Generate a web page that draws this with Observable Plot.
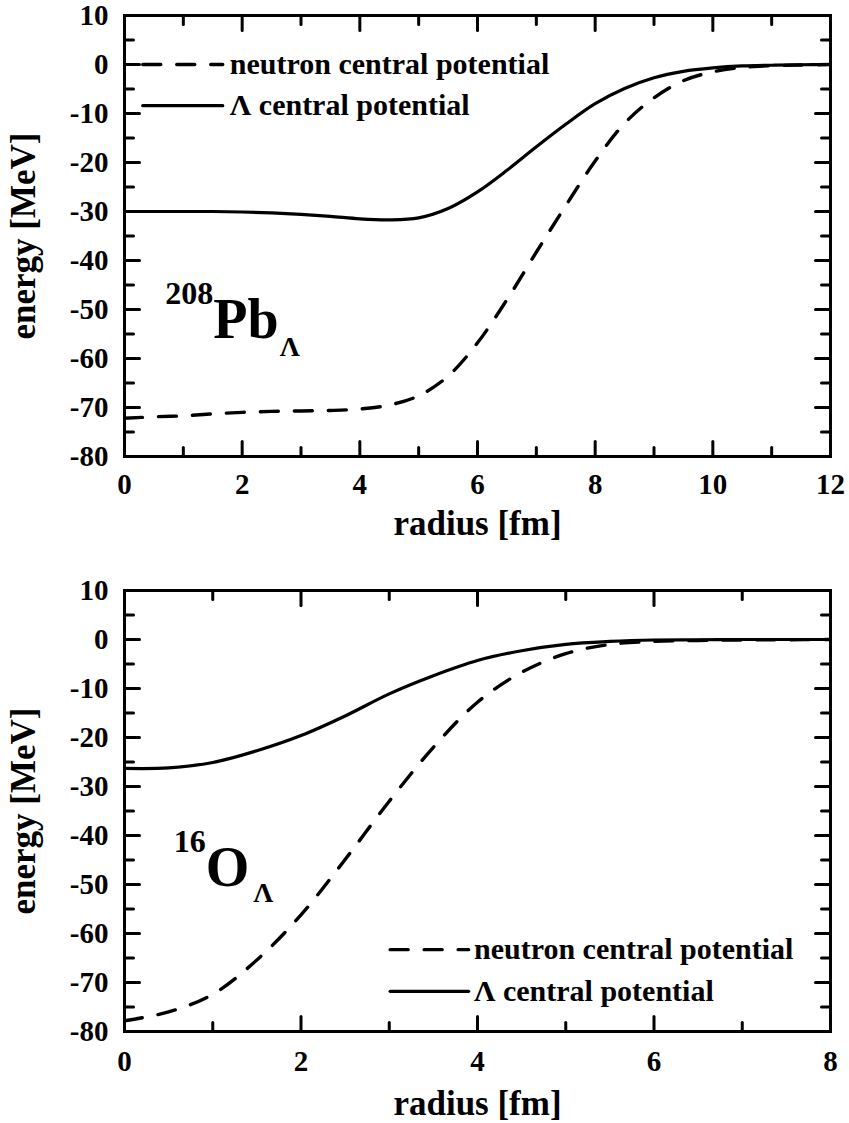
<!DOCTYPE html>
<html>
<head>
<meta charset="utf-8">
<script src="https://cdn.jsdelivr.net/npm/d3@7"></script>
<script src="https://cdn.jsdelivr.net/npm/@observablehq/plot@0.6"></script>
<style>
  html, body { margin: 0; padding: 0; background: #fff; }
  #chart svg { display: block; }
</style>
</head>
<body>
<div id="chart"></div>
<script>
// ---------- data ----------
const pbRadius  = [0, 0.5, 1, 1.5, 2, 2.5, 3, 3.5, 4, 4.5, 5, 5.5, 6, 6.5, 7, 7.5, 8, 8.5, 9, 9.5, 10, 10.5, 11, 11.5, 12];
const pbNeutron = [-72.2, -71.9, -71.7, -71.3, -71.0, -70.8, -70.7, -70.6, -70.3, -69.5, -67.6, -63.6, -56.8, -48.0, -38.3, -28.8, -19.7, -12.0, -6.8, -3.3, -1.5, -0.6, -0.25, -0.1, 0];
const pbLambda  = [-30.0, -30.0, -30.0, -30.0, -30.1, -30.3, -30.6, -31.0, -31.5, -31.7, -31.3, -29.4, -26.0, -21.6, -16.8, -12.2, -8.0, -4.9, -2.7, -1.4, -0.7, -0.3, -0.15, -0.05, 0];

const oRadius   = [0, 0.5, 1, 1.5, 2, 2.5, 3, 3.5, 4, 4.5, 5, 5.5, 6, 6.5, 7, 7.5, 8];
const oNeutron  = [-77.8, -76.0, -72.4, -65.4, -56.2, -44.9, -33.0, -22.0, -12.8, -6.7, -2.9, -1.0, -0.4, -0.2, -0.1, -0.05, 0];
const oLambda   = [-26.3, -26.2, -25.1, -22.7, -19.6, -15.6, -11.1, -7.4, -4.3, -2.3, -1.0, -0.4, -0.1, -0.05, 0, 0, 0];

const pbXMajor = [0, 2, 4, 6, 8, 10, 12];
const pbXMinor = [1, 3, 5, 7, 9, 11];
const oXMajor  = [0, 2, 4, 6, 8];
const oXMinor  = [1, 3, 5, 7];
const yMajor   = [-80, -70, -60, -50, -40, -30, -20, -10, 0, 10];
const yMinor   = [-75, -65, -55, -45, -35, -25, -15, -5, 5];

const seriesNames = ["neutron central potential", "\u039B central potential"];
const xTitle = "radius [fm]";
const yTitle = "energy [MeV]";
const pbLabel = ["208", "Pb", "\u039B"];
const oLabel  = ["16", "O", "\u039B"];

// ---------- drawing ----------
const FONT = "'Liberation Serif', 'Times New Roman', Times, serif";
const tickShape = { draw(context, l) { context.moveTo(0, 0); context.lineTo(0, -l); } };

function panel(cfg) {
  const [x0, x1] = cfg.xDomain;
  const [y0, y1] = [-80, 10];
  const rowsN = cfg.radius.map((r, i) => ({ r, v: cfg.neutron[i] }));
  const rowsL = cfg.radius.map((r, i) => ({ r, v: cfg.lambda[i] }));
  const tk = (data, ch, at, rotate, len) => Plot.vector(data, {
    [ch]: d => d, [ch === "x" ? "y" : "x"]: at, rotate, length: len,
    anchor: "start", shape: tickShape, strokeWidth: 3, stroke: "#000"
  });
  const L = cfg.legend;
  const N = cfg.nucleus;
  return Plot.plot({
    width: 849, height: cfg.height,
    marginLeft: 124, marginRight: 19, marginTop: cfg.marginTop, marginBottom: cfg.marginBottom,
    x: { domain: cfg.xDomain },
    y: { domain: [y0, y1] },
    style: { fontFamily: FONT, fontWeight: "bold", fontSize: "28px", color: "#000", background: "#fff" },
    marks: [
      Plot.line(rowsL, { x: "r", y: "v", curve: "catmull-rom", stroke: "#000", strokeWidth: 3.2, clip: true }),
      Plot.line(rowsN, { x: "r", y: "v", curve: "catmull-rom", stroke: "#000", strokeWidth: 3.4, strokeDasharray: "18,16", clip: true }),
      // inward ticks
      tk(cfg.xMajor, "x", y0, 0, 15), tk(cfg.xMinor, "x", y0, 0, 9),
      tk(cfg.xMajor, "x", y1, 180, 15), tk(cfg.xMinor, "x", y1, 180, 9),
      tk(yMajor, "y", x0, 90, 15), tk(yMinor, "y", x0, 90, 9),
      tk(yMajor, "y", x1, -90, 15), tk(yMinor, "y", x1, -90, 9),
      Plot.frame({ stroke: "#000", strokeWidth: 3 }),
      Plot.axisX({ ticks: cfg.xMajor, tickSize: 0, tickPadding: cfg.xLabelPad, tickFormat: String, label: null, fontSize: 29 }),
      Plot.axisY({ ticks: yMajor, tickSize: 0, tickPadding: 16, tickFormat: String, label: null, fontSize: 29 }),
      Plot.text([xTitle], { text: d => d, frameAnchor: "bottom", lineAnchor: "middle", dy: cfg.xTitleDy, fontSize: 35 }),
      Plot.text([yTitle], { text: d => d, frameAnchor: "left", textAnchor: "middle", lineAnchor: "middle", rotate: -90, dx: -101, fontSize: 35 }),
      // legend
      Plot.line([{ x: L.x1, y: L.y[0] }, { x: L.x2, y: L.y[0] }], { x: "x", y: "y", stroke: "#000", strokeWidth: 3.4, strokeDasharray: "18,16" }),
      Plot.line([{ x: L.x1, y: L.y[1] }, { x: L.x2, y: L.y[1] }], { x: "x", y: "y", stroke: "#000", strokeWidth: 3.2 }),
      Plot.text(seriesNames, { x: L.tx, y: (d, i) => L.y[i], text: d => d, textAnchor: "start", lineAnchor: "middle", fontSize: 30 }),
      // nucleus label
      Plot.text([cfg.label[0]], { x: N.x, y: N.supY, text: d => d, textAnchor: "end", lineAnchor: "bottom", fontSize: 32 }),
      Plot.text([cfg.label[1]], { x: N.x, y: N.y, text: d => d, textAnchor: "start", lineAnchor: "bottom", fontSize: 56 }),
      Plot.text([cfg.label[2]], { x: N.subX, y: N.subY, text: d => d, textAnchor: "start", lineAnchor: "bottom", fontSize: 28 })
    ]
  });
}

const topPanel = panel({
  radius: pbRadius, neutron: pbNeutron, lambda: pbLambda,
  xDomain: [0, 12], xMajor: pbXMajor, xMinor: pbXMinor,
  height: 560, marginTop: 15, marginBottom: 104, xLabelPad: 17, xTitleDy: 67,
  label: pbLabel,
  legend: { x1: 0.31, x2: 1.67, tx: 1.79, y: [0, -8.4] },
  nucleus: { x: 1.51, y: -55.9, supY: -48.8, subX: 2.64, subY: -59.4 }
});
const bottomPanel = panel({
  radius: oRadius, neutron: oNeutron, lambda: oLambda,
  xDomain: [0, 8], xMajor: oXMajor, xMinor: oXMinor,
  height: 563, marginTop: 30, marginBottom: 92, xLabelPad: 19, xTitleDy: 72,
  label: oLabel,
  legend: { x1: 3.01, x2: 3.90, tx: 3.96, y: [-63.3, -71.8] },
  nucleus: { x: 0.92, y: -50.3, supY: -43.3, subX: 1.46, subY: -53.6 }
});
document.getElementById("chart").append(topPanel, bottomPanel);
</script>
</body>
</html>
